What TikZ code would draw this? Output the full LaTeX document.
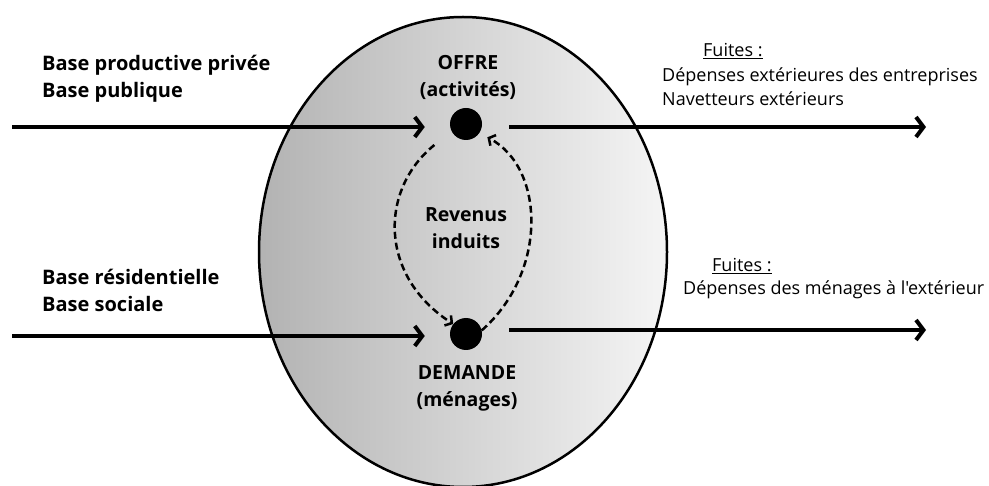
\documentclass[tikz,border=0pt]{standalone}
\usepackage{fontspec}
\setmainfont{Open Sans}
\newfontfamily\leakfont{Open Sans}
\usetikzlibrary{arrows.meta}
\begin{document}
\begin{tikzpicture}[x=1pt,y=-1pt,
  flow/.style={line width=4pt,-{Straight Barb[length=7.5pt,width=20pt,line width=4pt]}},
  loopflow/.style={line width=2.5pt,dash pattern=on 7pt off 4pt,-{Straight Barb[length=5pt,width=12pt]}},
  dot/.style={circle,fill=black,minimum size=32pt,inner sep=0pt},
  basetxt/.style={font=\fontsize{20}{27}\selectfont\bfseries,align=left,anchor=base west,inner sep=0pt},
  midtxt/.style={font=\fontsize{19.5}{27}\selectfont\bfseries,align=center,anchor=base,inner sep=0pt},
  leaktxt/.style={font=\leakfont\fontsize{18}{24.3}\selectfont,align=left,anchor=base west,inner sep=0pt}
]
\useasboundingbox (0,0) rectangle (989,486);
% territory
\draw[line width=2.5pt,left color=black!30,right color=black!4] (463,252) ellipse [x radius=204pt,y radius=235pt];
% poles
\node[dot] (offre) at (466,124) {};
\node[dot] (demande) at (466,334) {};
% inflows and leaks
\coordinate (in1) at (12,127);
\coordinate (in2) at (12,336);
\coordinate (out1) at (926,127);
\coordinate (out2) at (926,330);
\draw[flow,shorten >=25pt] (in1) -- (in1 -| offre.west);
\draw[flow,shorten >=25pt] (in2) -- (in2 -| demande.west);
\draw[flow,shorten <=27pt] (out1 -| offre.east) -- (out1);
\draw[flow,shorten <=27pt] (out2 -| demande.east) -- (out2);
% induced incomes
\draw[loopflow,shorten <=22pt] (offre.206) .. controls (379,190) and (379,276) .. (demande.142);
\draw[loopflow,shorten >=9pt] (demande.13) .. controls (548,272) and (545,168) .. (offre.326);
% labels
\node[basetxt] (prod) at (42,97.7) {Base productive privée\\Base publique};
\node[basetxt] (resid) at (42,311.7) {Base résidentielle\\Base sociale};
\node[midtxt] (offtxt) at (468,96.5) {OFFRE\\(activités)};
\node[midtxt] (revtxt) at (466,248.3) {Revenus\\induits};
\node[midtxt] (demtxt) at (467,407) {DEMANDE\\(ménages)};
\node[leaktxt] (f1) at (703,57) {\underline{Fuites :}};
\node[leaktxt] (f1txt) at (662,106) {Dépenses extérieures des entreprises\\Navetteurs extérieurs};
\node[leaktxt] (f2) at (712,271.7) {\underline{Fuites :}};
\node[leaktxt] (f2txt) at (683,295) {Dépenses des ménages à l'extérieur};
\end{tikzpicture}
\end{document}
